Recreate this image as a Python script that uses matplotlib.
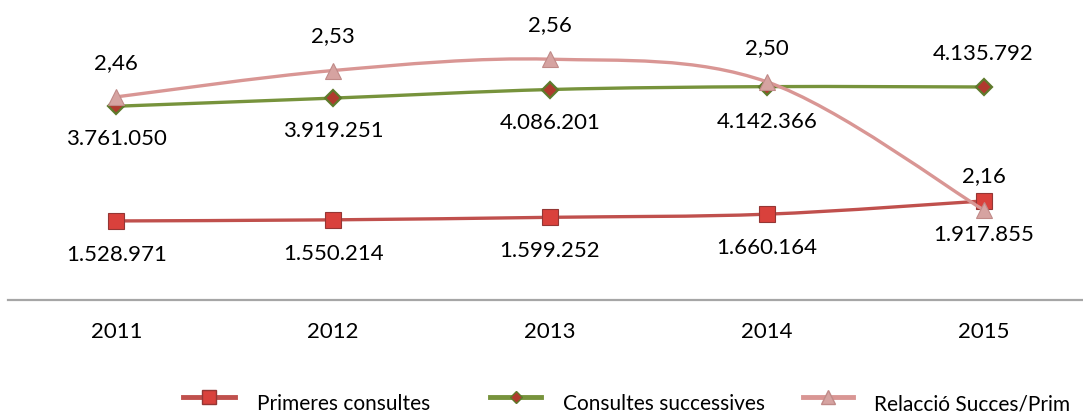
import matplotlib
matplotlib.use("Agg")
import matplotlib.pyplot as plt
from matplotlib.path import Path
from matplotlib.patches import PathPatch
from matplotlib.lines import Line2D

years = ["2011", "2012", "2013", "2014", "2015"]
primeres = [1528971, 1550214, 1599252, 1660164, 1917855]
successives = [3761050, 3919251, 4086201, 4142366, 4135792]
relacio = [2.46, 2.53, 2.56, 2.50, 2.16]

primeres_lbl = ["1.528.971", "1.550.214", "1.599.252", "1.660.164", "1.917.855"]
successives_lbl = ["3.761.050", "3.919.251", "4.086.201", "4.142.366", "4.135.792"]
relacio_lbl = ["2,46", "2,53", "2,56", "2,50", "2,16"]
legend_labels = ["Primeres consultes", "Consultes successives", "Relacció Succes/Prim"]

RED = "#C0504D"
RED_EDGE = "#943634"
RED_FACE = "#D9413C"
GREEN = "#77933C"
GREEN_EDGE = "#5E7A2C"
GREEN_FACE = "#B03A2E"
PINK = "#D99694"
PINK_FACE = "#D6A3A1"
PINK_EDGE = "#C08A88"

plt.rcParams['font.family'] = ['Lato', 'DejaVu Sans']
FS = 16
LFS = 15

W, H = 1083, 415
fig = plt.figure(figsize=(W / 100, H / 100), dpi=100)
left_px, slot = 8, 216.8
bottom_px, top_px = 299.5, 40
ax = fig.add_axes([left_px / W, (H - bottom_px) / H, 5 * slot / W, (bottom_px - top_px) / H])
ax2 = ax.twinx()

x = list(range(len(years)))


def smooth_path(xs, ys):
    pts = list(zip(xs, ys))
    n = len(pts)
    verts = [pts[0]]
    codes = [Path.MOVETO]
    for i in range(n - 1):
        p0 = pts[i - 1] if i > 0 else pts[i]
        p1 = pts[i]
        p2 = pts[i + 1]
        p3 = pts[i + 2] if i + 2 < n else pts[i + 1]
        c1 = (p1[0] + (p2[0] - p0[0]) / 6, p1[1] + (p2[1] - p0[1]) / 6)
        c2 = (p2[0] - (p3[0] - p1[0]) / 6, p2[1] - (p3[1] - p1[1]) / 6)
        verts += [c1, c2, p2]
        codes += [Path.CURVE4] * 3
    return Path(verts, codes)


for a in (ax, ax2):
    for s in a.spines.values():
        s.set_visible(False)
    a.set_yticks([])
    a.tick_params(length=0)

ax.spines['bottom'].set_visible(True)
ax.spines['bottom'].set_color("#A6A6A6")
ax.spines['bottom'].set_linewidth(1.6)

ax.set_xlim(-0.5, 4.5)
ax.set_ylim(0, 5050000)
ax2.set_ylim(1.922, 2.611)
ax.set_xticks(x)
ax.set_xticklabels(years, fontsize=FS)
ax.tick_params(axis='x', pad=16)

# primary series
ax.add_patch(PathPatch(smooth_path(x, primeres), fill=False, edgecolor=RED, lw=2.4, zorder=3))
ax.plot(x, primeres, ls='none', marker='s', ms=12, mfc=RED_FACE, mec=RED_EDGE, mew=0.8, zorder=4)
ax.add_patch(PathPatch(smooth_path(x, successives), fill=False, edgecolor=GREEN, lw=2.4, zorder=3))
ax.plot(x, successives, ls='none', marker='D', ms=8, mfc=GREEN_FACE, mec=GREEN_EDGE, mew=1.6, zorder=4)

# secondary series
ax2.add_patch(PathPatch(smooth_path(x, relacio), fill=False, edgecolor=PINK, lw=2.4, zorder=3))
ax2.plot(x, relacio, ls='none', marker='^', ms=12, mfc=PINK_FACE, mec=PINK_EDGE, mew=0.8, zorder=4)

succ_off = [-33, -33, -33, -35, 33]
for i in x:
    ax.annotate(primeres_lbl[i], (i, primeres[i]), xytext=(0, -34), textcoords='offset pixels',
                ha='center', va='center', fontsize=FS)
    ax.annotate(successives_lbl[i], (i, successives[i]), xytext=(0, succ_off[i]), textcoords='offset pixels',
                ha='center', va='center', fontsize=FS)
    ax2.annotate(relacio_lbl[i], (i, relacio[i]), xytext=(0, 34), textcoords='offset pixels',
                 ha='center', va='center', fontsize=FS)

# legend drawn as figure artists
styles = [
    dict(color=RED, marker='s', ms=10, mfc=RED_FACE, mec=RED_EDGE),
    dict(color=GREEN, marker='D', ms=6.5, mfc=GREEN_FACE, mec=GREEN_EDGE),
    dict(color=PINK, marker='^', ms=10, mfc=PINK_FACE, mec=PINK_EDGE),
]
line_x = [(183, 235), (490, 541), (803, 853)]
text_x = [257, 563, 874]
ly = 397
ty = 404
for (x0, x1), tx, st, lab in zip(line_x, text_x, styles, legend_labels):
    fig.add_artist(Line2D([x0 / W, x1 / W], [1 - ly / H, 1 - ly / H], lw=3.5,
                          color=st['color'], transform=fig.transFigure))
    fig.add_artist(Line2D([(x0 + x1) / 2 / W], [1 - ly / H], ls='none', marker=st['marker'],
                          ms=st['ms'], mfc=st['mfc'], mec=st['mec'], transform=fig.transFigure))
    fig.text(tx / W, 1 - ty / H, lab, fontsize=LFS, ha='left', va='center')

fig.savefig("out.png", dpi=100)
